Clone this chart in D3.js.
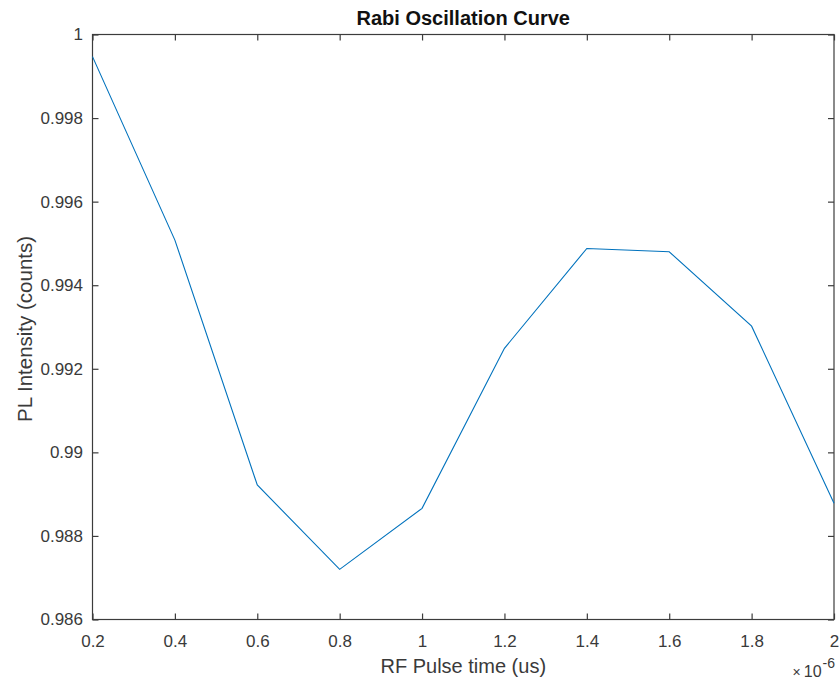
<!DOCTYPE html>
<html>
<head>
<meta charset="utf-8">
<script src="https://cdn.jsdelivr.net/npm/d3@7"></script>
<style>
body { margin: 0; background: #fff; }
svg { display: block; }
text { font-family: "Liberation Sans", Arial, Helvetica, sans-serif; }
</style>
</head>
<body>
<svg id="chart" width="840" height="679"></svg>
<script>
// Data (x in seconds, y in counts)
const pulseTimes = [2e-7, 4e-7, 6e-7, 8e-7, 1e-6, 1.2e-6, 1.4e-6, 1.6e-6, 1.8e-6, 2e-6];
const plIntensity = [0.99947, 0.99508, 0.98922, 0.98720, 0.98866, 0.99249, 0.99488, 0.99480, 0.99302, 0.98878];
const xTicks = [2e-7, 4e-7, 6e-7, 8e-7, 1e-6, 1.2e-6, 1.4e-6, 1.6e-6, 1.8e-6, 2e-6];
const xTickLabels = ["0.2", "0.4", "0.6", "0.8", "1", "1.2", "1.4", "1.6", "1.8", "2"];
const yTicks = [0.986, 0.988, 0.99, 0.992, 0.994, 0.996, 0.998, 1];
const yTickLabels = ["0.986", "0.988", "0.99", "0.992", "0.994", "0.996", "0.998", "1"];

const svg = d3.select("#chart");
const mLeft = 92.5, mRight = 834, mTop = 34.5, mBottom = 619.5;
const axisColor = "#3c3c3c", textColor = "#3a3a3a";

const x = d3.scaleLinear().domain([2e-7, 2e-6]).range([mLeft, mRight]);
const y = d3.scaleLinear().domain([0.986, 1]).range([mBottom, mTop]);

// Box
svg.append("rect")
  .attr("x", mLeft).attr("y", mTop)
  .attr("width", mRight - mLeft).attr("height", mBottom - mTop)
  .attr("fill", "none").attr("stroke", axisColor).attr("stroke-width", 1.2);

// Axes with inward ticks
const xAxisB = svg.append("g").attr("transform", `translate(0,${mBottom})`)
  .call(d3.axisBottom(x).tickValues(xTicks).tickSizeInner(-6).tickSizeOuter(0).tickPadding(15)
    .tickFormat((d, i) => xTickLabels[i]));
const xAxisT = svg.append("g").attr("transform", `translate(0,${mTop})`)
  .call(d3.axisTop(x).tickValues(xTicks).tickSizeInner(-6).tickSizeOuter(0).tickFormat(""));
const yAxisL = svg.append("g").attr("transform", `translate(${mLeft},0)`)
  .call(d3.axisLeft(y).tickValues(yTicks).tickSizeInner(-6).tickSizeOuter(0).tickPadding(9.5)
    .tickFormat((d, i) => yTickLabels[i]));
const yAxisR = svg.append("g").attr("transform", `translate(${mRight},0)`)
  .call(d3.axisRight(y).tickValues(yTicks).tickSizeInner(-6).tickSizeOuter(0).tickFormat(""));

[xAxisB, xAxisT, yAxisL, yAxisR].forEach(g => {
  g.select(".domain").remove();
  g.selectAll(".tick line").attr("stroke", axisColor).attr("stroke-width", 1.2);
  g.selectAll(".tick text").attr("fill", textColor).attr("font-size", 17)
    .attr("font-family", "'Liberation Sans', Arial, sans-serif");
});

// Line
svg.append("path")
  .datum(pulseTimes.map((t, i) => [t, plIntensity[i]]))
  .attr("fill", "none")
  .attr("stroke", "#0072BD")
  .attr("stroke-width", 1.1)
  .attr("d", d3.line().x(d => x(d[0])).y(d => y(d[1])));

// Title
svg.append("text")
  .attr("x", (mLeft + mRight) / 2).attr("y", 25)
  .attr("text-anchor", "middle").attr("font-size", 20).attr("font-weight", "bold")
  .attr("fill", "#111").text("Rabi Oscillation Curve");

// X label
svg.append("text")
  .attr("x", (mLeft + mRight) / 2).attr("y", 673)
  .attr("text-anchor", "middle").attr("font-size", 20)
  .attr("fill", textColor).text("RF Pulse time (us)");

// Y label
svg.append("text")
  .attr("transform", `translate(32,${(mTop + mBottom) / 2 + 2}) rotate(-90)`)
  .attr("text-anchor", "middle").attr("font-size", 20.5)
  .attr("fill", textColor).text("PL Intensity (counts)");

// Exponent label
const ex = svg.append("text")
  .attr("x", 835).attr("y", 677)
  .attr("text-anchor", "end").attr("font-size", 16).attr("fill", textColor);
ex.append("tspan").attr("font-size", 14).text("\u00d7");
ex.append("tspan").attr("dx", 3).text("10");
ex.append("tspan").attr("dy", -9).attr("dx", 1).attr("font-size", 14).text("-6");
</script>
</body>
</html>
